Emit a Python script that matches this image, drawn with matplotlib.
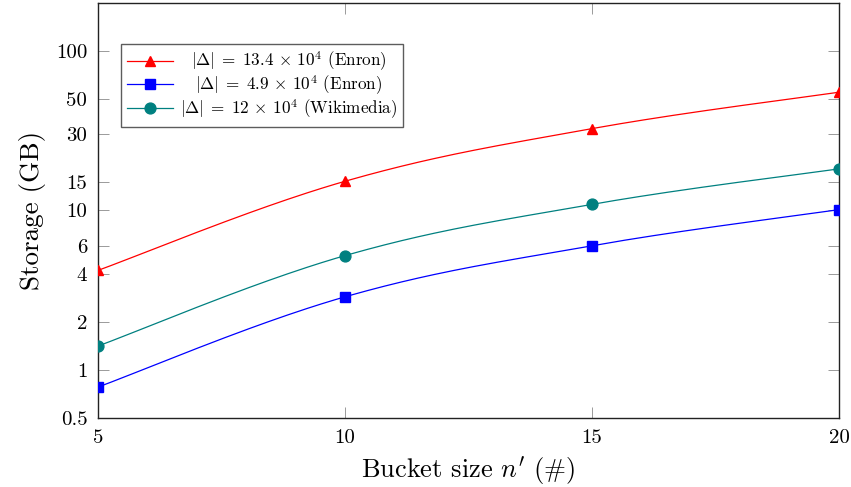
import numpy as np
import matplotlib
matplotlib.use("Agg")
import matplotlib.pyplot as plt
from matplotlib.ticker import FixedLocator, FixedFormatter, NullLocator
from matplotlib.transforms import Affine2D

plt.rcParams['font.family'] = 'serif'
plt.rcParams['font.serif'] = ['cmr10', 'DejaVu Serif']
plt.rcParams['mathtext.fontset'] = 'cm'
plt.rcParams['axes.unicode_minus'] = False

# ---- data ----
bucket_sizes = [5, 10, 15, 20]
enron_134 = [4.2, 15.2, 32.5, 55]
enron_49 = [0.78, 2.87, 6.0, 10.1]
wiki_12 = [1.41, 5.2, 10.9, 18.2]

series_labels = [r'$|\Delta| \;=\; 13.4 \,\times\, 10^4$ (Enron)',
                 r'$|\Delta| \;=\; 4.9 \,\times\, 10^4$ (Enron)',
                 r'$|\Delta| \;=\; 12 \,\times\, 10^4$ (Wikimedia)']
y_ticks = [0.5, 1, 2, 4, 6, 10, 15, 30, 50, 100]
y_tick_labels = ['0.5', '1', '2', '4', '6', '10', '15', '30', '50', '100']
x_ticks = [5, 10, 15, 20]


def smooth(xs, ys, n=60):
    """Cubic Bezier smoothing (like TikZ 'smooth') in (x, log y) space."""
    P = np.column_stack([np.asarray(xs, float), np.log10(ys)])
    k = len(P)
    out = []
    for i in range(k - 1):
        p0, p3 = P[i], P[i + 1]
        prev = P[i - 1] if i > 0 else P[i]
        nxt = P[i + 2] if i + 2 < k else P[i + 1]
        c1 = p0 + (p3 - prev) / 6.0 * 1.1
        c2 = p3 - (nxt - p0) / 6.0 * 1.1
        t = np.linspace(0, 1, n)[:, None]
        seg = ((1 - t) ** 3) * p0 + 3 * ((1 - t) ** 2) * t * c1 + 3 * (1 - t) * t ** 2 * c2 + t ** 3 * p3
        out.append(seg if i == 0 else seg[1:])
    S = np.vstack(out)
    return S[:, 0], 10 ** S[:, 1]


fig = plt.figure(figsize=(8.51, 4.87), dpi=100)
ax = fig.add_axes([97.7 / 851, 1 - 418 / 487, (839 - 97.7) / 851, (418 - 2.7) / 487])

styles = [
    dict(color='#ff0000', marker='^', ms=7.5),
    dict(color='#0000ff', marker='s', ms=7.0),
    dict(color='#008080', marker='o', ms=7.8),
]
for ys, lab, st in zip([enron_134, enron_49, wiki_12], series_labels, styles):
    sx, sy = smooth(bucket_sizes, ys)
    ax.plot(sx, sy, color=st['color'], lw=0.9, zorder=3)
    ax.plot(bucket_sizes, ys, linestyle='none', marker=st['marker'], ms=st['ms'],
            color=st['color'], mec=st['color'], zorder=4)
    ax.plot([], [], color=st['color'], lw=0.9, marker=st['marker'], ms=st['ms'], label=lab)

ax.set_yscale('log')
ax.set_xlim(5, 20)
ax.set_ylim(0.5, 200)
ax.yaxis.set_major_locator(FixedLocator(y_ticks))
ax.yaxis.set_major_formatter(FixedFormatter(y_tick_labels))
ax.yaxis.set_minor_locator(NullLocator())
ax.set_xticks(x_ticks)
ax.set_xticklabels([str(v) for v in x_ticks])

ax.tick_params(axis='both', which='major', direction='in', length=8, width=0.6,
               color='#8a8a8a', labelsize=15, top=True, right=True)
ax.tick_params(axis='y', pad=7.5)
ax.tick_params(axis='x', pad=8.0)
for sp in ax.spines.values():
    sp.set_linewidth(1.0)
    sp.set_color('#222222')

ax.set_xlabel(r"Bucket size $n'$ (#)", fontsize=19, labelpad=5)
ax.set_ylabel('Storage (GB)', fontsize=19.5, labelpad=7)

leg = ax.legend(loc='upper left', bbox_to_anchor=(0.0315, 0.901), fontsize=12.3,
                frameon=True, fancybox=False, handlelength=2.7, borderpad=0.35,
                labelspacing=0.0, handletextpad=0.4, borderaxespad=0)
leg.get_frame().set_edgecolor('#333333')
leg.get_frame().set_linewidth(1.0)

# center the legend labels within their column (like pgfplots)
fig.canvas.draw()
renderer = fig.canvas.get_renderer()
texts = leg.get_texts()
widths = [t.get_window_extent(renderer).width for t in texts]
wmax = max(widths)
for t, w in zip(texts, widths):
    dx = (wmax - w) / 2.0
    t.set_transform(t.get_transform() + Affine2D().translate(dx, 0))

fig.savefig('out.png', dpi=100)
